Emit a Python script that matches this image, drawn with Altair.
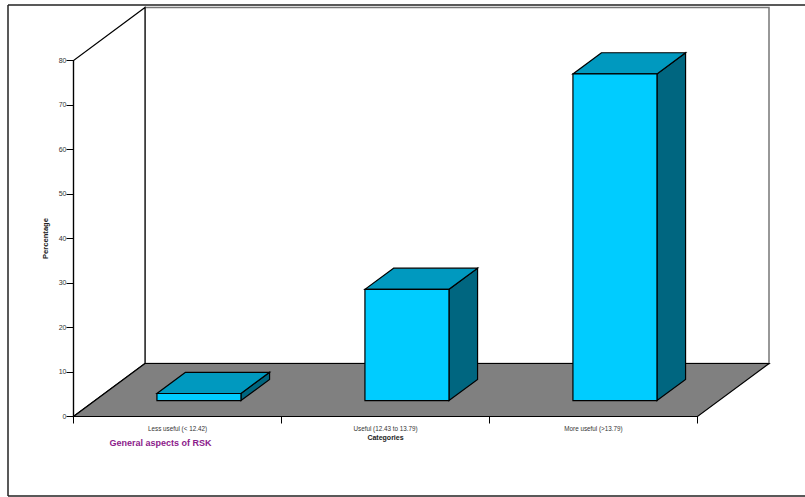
import altair as alt
import pandas as pd

categories = ["Less useful (< 12.42)", "Useful (12.43 to 13.79)", "More useful (>13.79)"]
percentages = [1.6, 25.0, 73.4]
y_ticks = [0, 10, 20, 30, 40, 50, 60, 70, 80]

# Oblique projection: one unit of depth shifts right and up, in axis units
DEPTH_X = 71.5 / 208
DEPTH_Y = 53 / 4.45
BAR_WIDTH = 0.404
BAR_DEPTH = (0.3, 0.7)
Y_MAX = 80
N = len(categories)

FRONT, TOP, SIDE = "#00CCFF", "#0099BF", "#006680"
FLOOR, BACK_EDGE = "#808080", "#777777"
INK = "#000000"
FONT = "Liberation Sans"
LINE = 1.2

x_scale = alt.Scale(domain=[0, N], nice=False, zero=False)
y_scale = alt.Scale(domain=[0, Y_MAX], nice=False, zero=False)


def X(field="x"):
    return alt.X(f"{field}:Q", scale=x_scale, axis=alt.Axis(
        values=list(range(N + 1)), labels=False, grid=False, tickSize=7, translate=0,
        tickColor=INK, domainColor=INK, domainWidth=LINE, tickWidth=1, zindex=1,
        title="Categories", titleFont=FONT, titleFontSize=7, titleFontWeight="bold",
        titleColor="#222222", titleX=312, titleY=21, titleBaseline="middle"))


def Y(field="y"):
    return alt.Y(f"{field}:Q", scale=y_scale, axis=alt.Axis(
        values=y_ticks, grid=False, tickSize=7, translate=0, tickColor=INK, domainColor=INK,
        domainWidth=LINE, tickWidth=1, zindex=1, labelFont=FONT, labelFontSize=7,
        labelColor="#333333", labelPadding=0,
        title="Percentage", titleFont=FONT, titleFontSize=7.6, titleFontWeight="bold",
        titleColor="#222222", titleX=-23.5, titleY=178))


def slab(x0, x1, y0, y1, fill, stroke=INK):
    """Parallelogram receding in depth from (x0..x1, y0) to (x0..x1 shifted, y1)."""
    t = (y1 - y0) / DEPTH_Y
    df = pd.DataFrame({"y": [y0, y1], "x": [x0, x0 + t * DEPTH_X], "x2": [x1, x1 + t * DEPTH_X]})
    return alt.Chart(df).mark_area(orient="horizontal", fill=fill, stroke=stroke, strokeWidth=LINE, interpolate="linear").encode(
        y=Y(), x=X(), x2="x2:Q")


def wall(x0, x1, y0, y1, y0b, y1b, fill, stroke=INK):
    """Parallelogram with vertical left and right edges."""
    df = pd.DataFrame({"x": [x0, x1], "y": [y0, y1], "y2": [y0b, y1b]})
    return alt.Chart(df).mark_area(fill=fill, stroke=stroke, strokeWidth=LINE, interpolate="linear").encode(
        x=X(), y=Y(), y2="y2:Q")


def box(x0, x1, y0, y1, fill, stroke=INK, width=LINE):
    df = pd.DataFrame({"x": [x0], "x2": [x1], "y": [y0], "y2": [y1]})
    return alt.Chart(df).mark_rect(fill=fill, stroke=stroke, strokeWidth=width).encode(
        x=X(), x2="x2:Q", y=Y(), y2="y2:Q")


layers = []

# Back wall, left wall and floor
layers.append(box(DEPTH_X, N + DEPTH_X, DEPTH_Y, Y_MAX + DEPTH_Y, "#FFFFFF", BACK_EDGE, 1.5))
layers.append(wall(0, DEPTH_X, 0, DEPTH_Y, Y_MAX, Y_MAX + DEPTH_Y, "#FFFFFF"))
layers.append(slab(0, N, 0, DEPTH_Y, FLOOR))

# One box per category: side, top, then front face
for i, value in enumerate(percentages):
    left = i + (1 - BAR_WIDTH) / 2
    t0, t1 = BAR_DEPTH
    x0 = left + t0 * DEPTH_X
    x1 = x0 + BAR_WIDTH
    shift_x = (t1 - t0) * DEPTH_X
    base = t0 * DEPTH_Y
    rise = (t1 - t0) * DEPTH_Y
    layers.append(wall(x1, x1 + shift_x, base, base + rise, base + value, base + rise + value, SIDE))
    layers.append(slab(x0, x1, base + value, base + value + rise, TOP))
    layers.append(box(x0, x1, base, base + value, FRONT))

# Category labels under the floor
labels = pd.DataFrame({"x": [i + 0.5 for i in range(N)], "label": categories})
layers.append(alt.Chart(labels).mark_text(font=FONT, fontSize=6.3, color="#333333", baseline="middle").encode(
    x=X(), y=alt.value(368.5), text="label:N"))

# Caption and outer frame
layers.append(alt.Chart(pd.DataFrame({"t": ["General aspects of RSK"]})).mark_text(
    font=FONT, fontSize=9, fontWeight="bold", color="#8B1A8B", baseline="middle").encode(
    x=alt.value(87), y=alt.value(382.5), text="t:N"))
frame = [
    {"x": -65.5, "x2": 732, "y": -55.5, "y2": -55.5},
    {"x": -65.5, "x2": 732, "y": 435.5, "y2": 435.5},
    {"x": -65.5, "x2": -65.5, "y": -55.5, "y2": 435.5},
]
for seg in frame:
    layers.append(alt.Chart(pd.DataFrame({"a": [0]})).mark_rule(color="#222222", strokeWidth=1.5).encode(
        x=alt.value(seg["x"]), x2=alt.value(seg["x2"]), y=alt.value(seg["y"]), y2=alt.value(seg["y2"])))

chart = alt.layer(*layers).properties(
    width=624, height=356,
    autosize=alt.AutoSizeParams(type="none"),
    padding={"left": 73.5, "top": 60.5, "right": 107.5, "bottom": 80.5},
    background="#FFFFFF",
).configure_view(stroke=None)

chart.save("out.html", embed_options={"renderer": "svg", "actions": False})
